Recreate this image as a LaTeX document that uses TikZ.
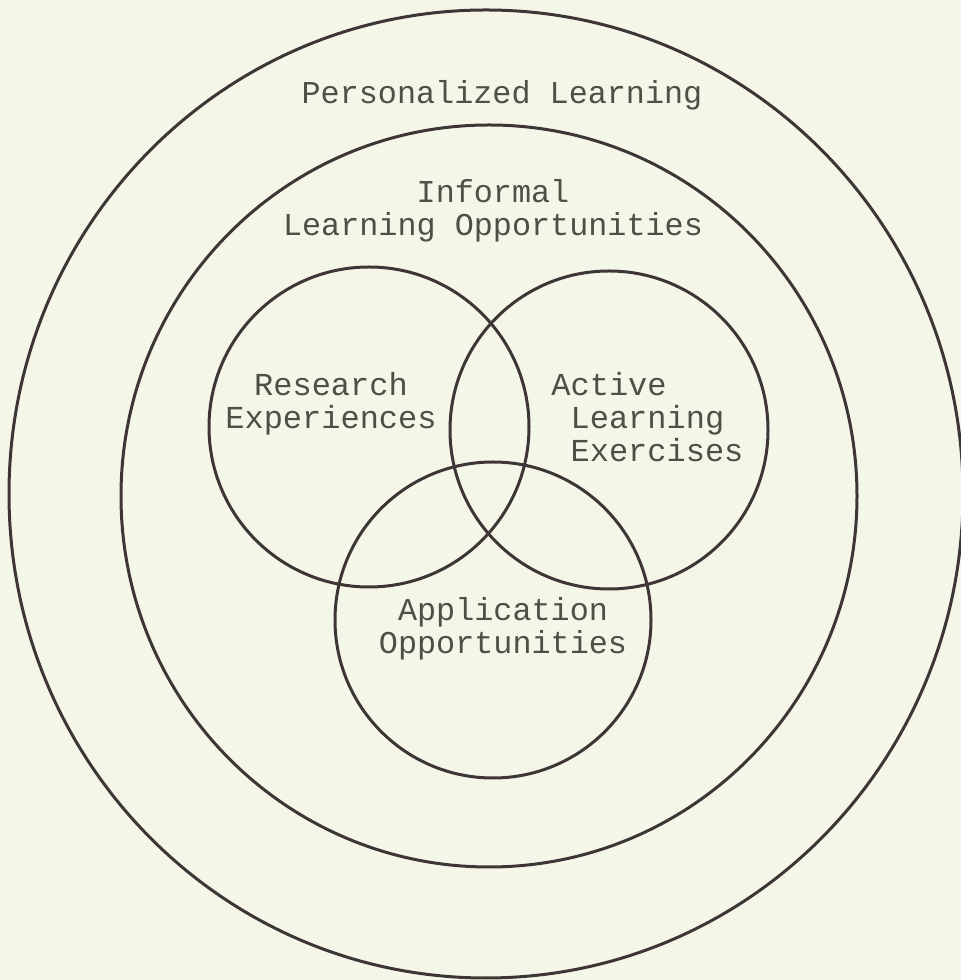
\documentclass[tikz,border=0pt]{standalone}
\usepackage{fontspec}
\setmonofont{Liberation Mono}

\definecolor{paper}{RGB}{244,246,231}
\definecolor{ink}{RGB}{62,54,54}
\definecolor{typed}{RGB}{80,78,70}

\begin{document}
\begin{tikzpicture}[x=0.5pt,y=0.5pt,
    ring/.style={draw=ink,line width=1.5pt},
    bigtext/.style={font=\ttfamily\fontsize{15.9}{16.4}\selectfont,
                    text=typed,inner sep=0pt,align=center},
    venntext/.style={font=\ttfamily\fontsize{16}{16.5}\selectfont,
                     text=typed,inner sep=0pt}]

  \fill[paper] (0,0) rectangle (961,980);
  \useasboundingbox (0,0) rectangle (961,980);

  % the two surrounding rings
  \draw[ring] (486,486) ellipse [x radius=477, y radius=484];
  \draw[ring] (489,484) ellipse [x radius=368, y radius=371];

  % three overlapping circles
  \draw[ring] (369,553) circle [radius=160];
  \draw[ring] (609,550) circle [radius=159];
  \draw[ring] (493,360) circle [radius=158];

  \node[bigtext] (personal) at (502,885) {Personalized Learning};
  \node[bigtext] (informal) at (493,769) {Informal\\Learning Opportunities};
  \node[venntext,align=center] (research) at (331,576) {Research\\Experiences};
  \node[venntext,align=left,anchor=west] (active) at (551,563)
    {Active\\~Learning\\~Exercises};
  \node[bigtext] (application) at (503,351) {Application\\Opportunities};

\end{tikzpicture}
\end{document}
